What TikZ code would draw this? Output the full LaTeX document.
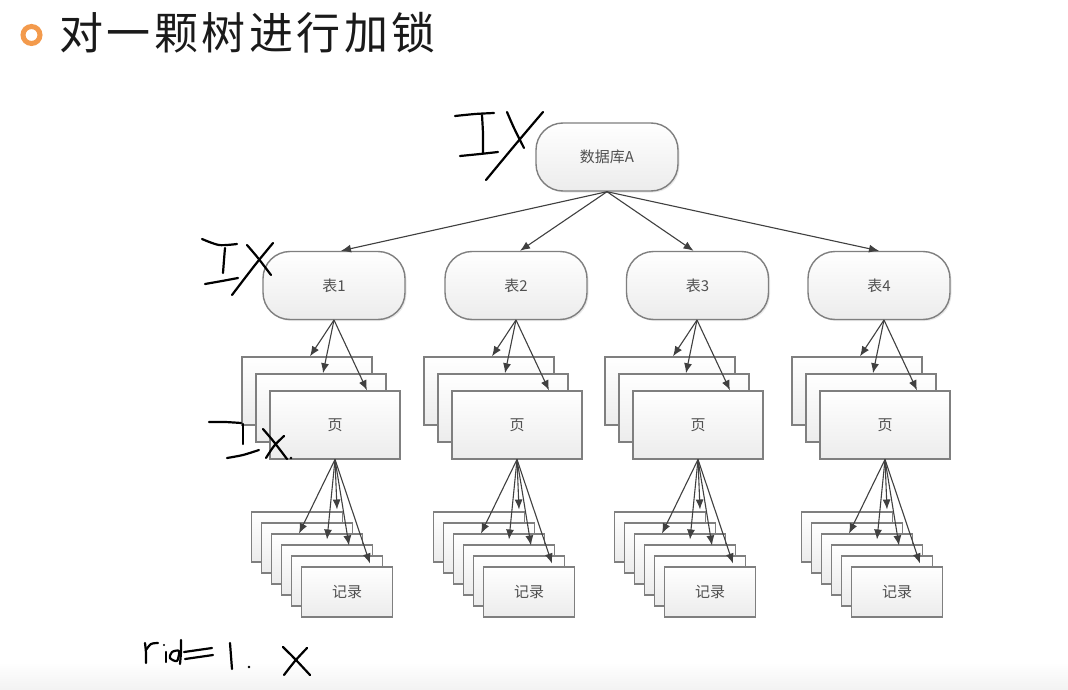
\documentclass[tikz,border=0pt]{standalone}
\usepackage{fontspec}
\newfontfamily\cjk{Noto Sans CJK SC}
\usetikzlibrary{calc,arrows.meta,shadows}
\definecolor{ink}{HTML}{1A1A1A}
\definecolor{ringc}{HTML}{F39A4C}
\definecolor{boxline}{HTML}{7F7F7F}
\definecolor{boxtext}{HTML}{505050}
\definecolor{linkc}{HTML}{404040}
\begin{document}
\begin{tikzpicture}[x=1pt,y=-1pt,
  boxbase/.style={draw=boxline, line width=1.4pt, inner sep=0pt,
    top color=white, bottom color=gray!15, text=boxtext,
    font=\cjk\fontsize{15}{15}\selectfont},
  rootbox/.style={boxbase, rounded corners=27pt, minimum width=142pt, minimum height=68pt,
    drop shadow={opacity=0.18, shadow xshift=1.5pt, shadow yshift=-1.5pt}},
  pagebox/.style={boxbase, minimum width=130pt, minimum height=68pt},
  recbox/.style={boxbase, minimum width=91pt, minimum height=50pt},
  link/.style={draw=linkc, line width=1.1pt, -{Latex[length=10pt,width=8pt]}},
  hand/.style={draw=black, line width=2.2pt, line cap=round, line join=round}]
\useasboundingbox (0,0) rectangle (1068,690);
\fill[white] (0,0) rectangle (1068,690);
\shade[top color=white, bottom color=gray!10] (0,662) rectangle (1068,690);

% heading
\node[circle, draw=ringc, line width=5pt, minimum size=17pt, inner sep=0pt] (bullet) at (31.5,35) {};
\node[anchor=west, inner sep=0pt, text=ink,
      font=\cjk\fontsize{44}{44}\selectfont\addfontfeature{LetterSpace=8}] (title) at (59,33) {对一颗树进行加锁};

% database
\node[rootbox] (root) at (607,157) {数据库A};

% tables, their pages and records
\foreach \i/\cx/\px in {1/334/335, 2/516/517, 3/697.5/698, 4/879/885}{
  \node[rootbox] (t\i) at (\cx,285.5) {表\i};
  \node[pagebox] (pb\i) at (\px-28,391) {};
  \node[pagebox] (pm\i) at (\px-14,408) {};
  \node[pagebox] (pf\i) at (\px,425) {页};
  \foreach \k in {5,4,3,2,1}{
    \node[recbox] (r\i-\k) at (\px+12-10*\k,592-11*\k) {};
  }
  \node[recbox] (r\i-0) at (\px+12,592) {记录};
  \coordinate (ts\i) at (\px-1,320);
  \coordinate (ps\i) at (\px,459.5);
}

% connectors
\draw[link] (root.south) -- ($(t1.north)+(7,0)$);
\draw[link] (root.south) -- ($(t2.north)+(4,0)$);
\draw[link] (root.south) -- ($(t3.north)+(-4,0)$);
\draw[link] (root.south) -- ($(t4.north)+(0,0)$);
\foreach \i in {1,2,3,4}{
  \draw[link] (ts\i) -- ($(pb\i.north)+(3,0)$);
  \draw[link] (ts\i) -- ($(pm\i.north)+(2,0)$);
  \draw[link] (ts\i) -- ($(pf\i.north)+(32,0)$);
  \draw[link] (ps\i) -- ($(ps\i)+(2,50)$);
  \draw[link] (ps\i) -- ($(ps\i)+(-36,74)$);
  \draw[link] (ps\i) -- ($(ps\i)+(-8,80)$);
  \draw[link] (ps\i) -- ($(ps\i)+(14,86)$);
  \draw[link] (ps\i) -- ($(ps\i)+(35,104)$);
}

% handwritten notes
% IX (crossed) at the database
\draw[hand] plot[smooth] coordinates {(455,116) (475,114) (494,113)};
\draw[hand] plot[smooth] coordinates {(482,115) (483,134) (483,153)};
\draw[hand] plot[smooth] coordinates {(460,156) (480,154) (498,152)};
\draw[hand] plot[smooth] coordinates {(507,112) (514,128) (524,148)};
\draw[hand] plot[smooth] coordinates {(543,112) (515,145) (486,180)};
% IX (crossed) at table 1
\draw[hand] plot[smooth] coordinates {(202,239) (219,245) (237,244)};
\draw[hand] plot[smooth] coordinates {(225,248) (224,260) (223,273)};
\draw[hand] plot[smooth] coordinates {(205,284) (222,281) (238,278)};
\draw[hand] plot[smooth] coordinates {(247,245) (258,258) (271,275)};
\draw[hand] plot[smooth] coordinates {(273,243) (255,265) (232,295)};
% IX. at the pages
\draw[hand] plot[smooth] coordinates {(209,422) (225,422) (241,423)};
\draw[hand] plot[smooth] coordinates {(243,424) (243,434) (243,444)};
\draw[hand] plot[smooth] coordinates {(227,458) (243,455) (259,450)};
\draw[hand] plot[smooth] coordinates {(263,429) (274,442) (287,459)};
\draw[hand] plot[smooth] coordinates {(284,436) (274,446) (266,458)};
\fill (291,458) circle (1.3pt);
% rid=1. X
\draw[hand] plot[smooth] coordinates {(145,643) (146,653) (146,663)};
\draw[hand] plot[smooth] coordinates {(146,650) (151,644) (158,643)};
\draw[hand] (166,652) -- (166,662);
\fill (164,645) circle (1.2pt);
\draw[hand] plot[smooth cycle] coordinates {(179,651) (172,652) (170,658) (177,661)};
\draw[hand] plot[smooth] coordinates {(181,640) (181,652) (180,664)};
\draw[hand] (184,652) -- (212,648);
\draw[hand] (185,659) -- (213,655);
\draw[hand] plot[smooth] coordinates {(230,643) (231,656) (232,669)};
\fill (249,667) circle (1.4pt);
\draw[hand] plot[smooth] coordinates {(283,647) (296,660) (310,675)};
\draw[hand] plot[smooth] coordinates {(307,648) (295,661) (284,675)};
\end{tikzpicture}
\end{document}
